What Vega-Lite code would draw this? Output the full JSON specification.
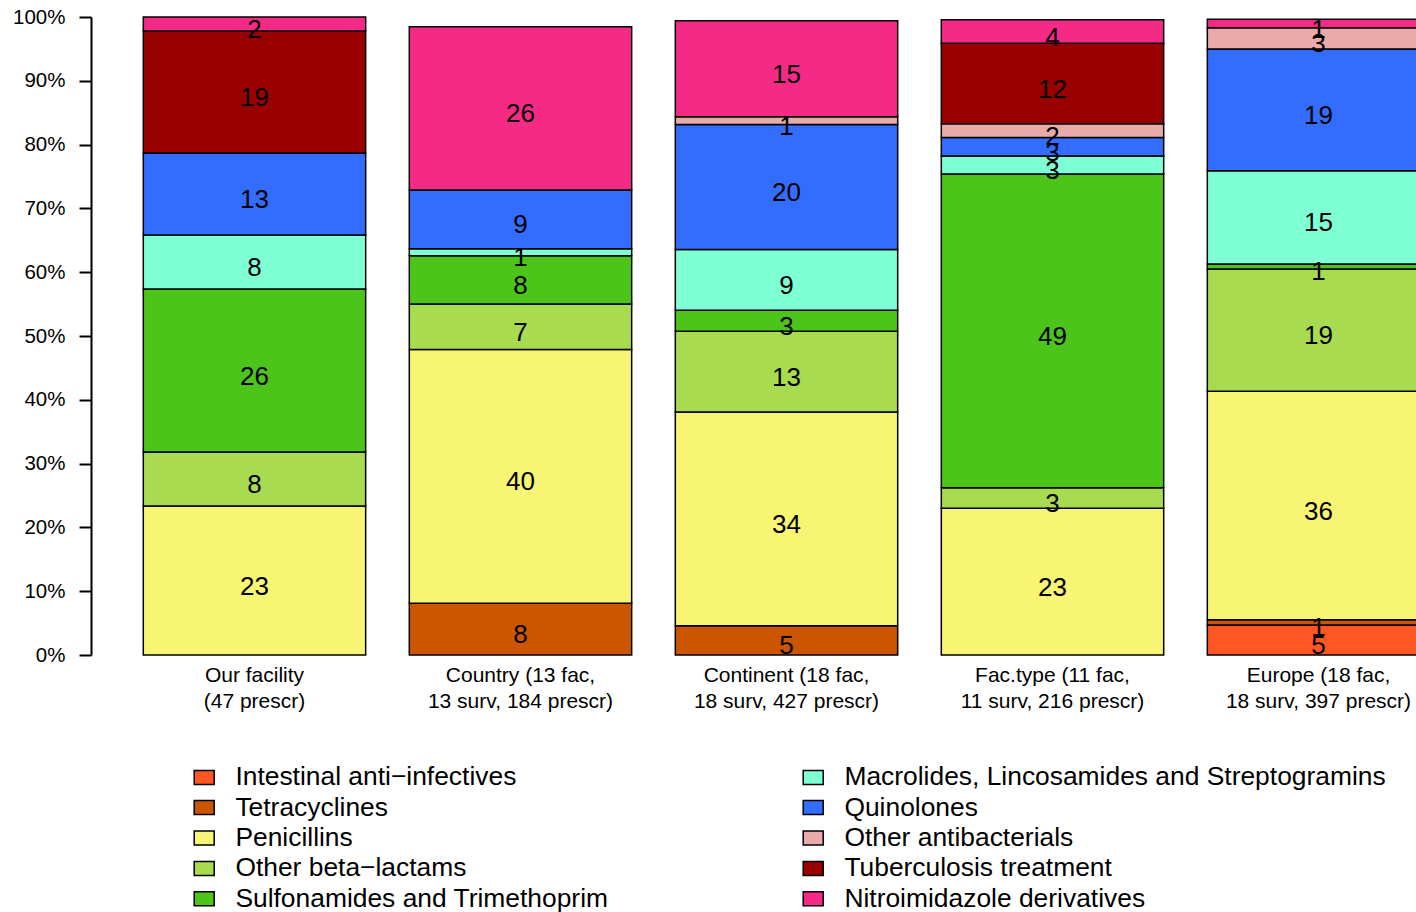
{
  "$schema": "https://vega.github.io/schema/vega-lite/v6.json",
  "width": 1325,
  "height": 638,
  "autosize": {"type": "none"},
  "padding": {"left": 91, "top": 17, "right": 0, "bottom": 257},
  "background": "white",
  "config": {
    "view": {"stroke": null},
    "font": "Liberation Sans",
    "axis": {"labelFont": "Liberation Sans", "labelColor": "black"},
    "legend": {"labelFont": "Liberation Sans"}
  },
  "data": {
    "values": [
      {"grp": "Our facility\n(47 prescr)", "cls": "Penicillins", "pct": 23.35, "lab": 23},
      {"grp": "Our facility\n(47 prescr)", "cls": "Other beta−lactams", "pct": 8.46, "lab": 8},
      {"grp": "Our facility\n(47 prescr)", "cls": "Sulfonamides and Trimethoprim", "pct": 25.55, "lab": 26},
      {"grp": "Our facility\n(47 prescr)", "cls": "Macrolides, Lincosamides and Streptogramins", "pct": 8.46, "lab": 8},
      {"grp": "Our facility\n(47 prescr)", "cls": "Quinolones", "pct": 12.85, "lab": 13},
      {"grp": "Our facility\n(47 prescr)", "cls": "Tuberculosis treatment", "pct": 19.12, "lab": 19},
      {"grp": "Our facility\n(47 prescr)", "cls": "Nitroimidazole derivatives", "pct": 2.21, "lab": 2},

      {"grp": "Country (13 fac,\n13 surv, 184 prescr)", "cls": "Tetracyclines", "pct": 8.1, "lab": 8},
      {"grp": "Country (13 fac,\n13 surv, 184 prescr)", "cls": "Penicillins", "pct": 39.8, "lab": 40},
      {"grp": "Country (13 fac,\n13 surv, 184 prescr)", "cls": "Other beta−lactams", "pct": 7.1, "lab": 7},
      {"grp": "Country (13 fac,\n13 surv, 184 prescr)", "cls": "Sulfonamides and Trimethoprim", "pct": 7.57, "lab": 8},
      {"grp": "Country (13 fac,\n13 surv, 184 prescr)", "cls": "Macrolides, Lincosamides and Streptogramins", "pct": 1.1, "lab": 1},
      {"grp": "Country (13 fac,\n13 surv, 184 prescr)", "cls": "Quinolones", "pct": 9.2, "lab": 9},
      {"grp": "Country (13 fac,\n13 surv, 184 prescr)", "cls": "Nitroimidazole derivatives", "pct": 25.6, "lab": 26},

      {"grp": "Continent (18 fac,\n18 surv, 427 prescr)", "cls": "Tetracyclines", "pct": 4.6, "lab": 5},
      {"grp": "Continent (18 fac,\n18 surv, 427 prescr)", "cls": "Penicillins", "pct": 33.5, "lab": 34},
      {"grp": "Continent (18 fac,\n18 surv, 427 prescr)", "cls": "Other beta−lactams", "pct": 12.65, "lab": 13},
      {"grp": "Continent (18 fac,\n18 surv, 427 prescr)", "cls": "Sulfonamides and Trimethoprim", "pct": 3.3, "lab": 3},
      {"grp": "Continent (18 fac,\n18 surv, 427 prescr)", "cls": "Macrolides, Lincosamides and Streptogramins", "pct": 9.5, "lab": 9},
      {"grp": "Continent (18 fac,\n18 surv, 427 prescr)", "cls": "Quinolones", "pct": 19.6, "lab": 20},
      {"grp": "Continent (18 fac,\n18 surv, 427 prescr)", "cls": "Other antibacterials", "pct": 1.2, "lab": 1},
      {"grp": "Continent (18 fac,\n18 surv, 427 prescr)", "cls": "Nitroimidazole derivatives", "pct": 15.05, "lab": 15},

      {"grp": "Fac.type (11 fac,\n11 surv, 216 prescr)", "cls": "Penicillins", "pct": 23.0, "lab": 23},
      {"grp": "Fac.type (11 fac,\n11 surv, 216 prescr)", "cls": "Other beta−lactams", "pct": 3.2, "lab": 3},
      {"grp": "Fac.type (11 fac,\n11 surv, 216 prescr)", "cls": "Sulfonamides and Trimethoprim", "pct": 49.2, "lab": 49},
      {"grp": "Fac.type (11 fac,\n11 surv, 216 prescr)", "cls": "Macrolides, Lincosamides and Streptogramins", "pct": 2.8, "lab": 3},
      {"grp": "Fac.type (11 fac,\n11 surv, 216 prescr)", "cls": "Quinolones", "pct": 2.9, "lab": 3},
      {"grp": "Fac.type (11 fac,\n11 surv, 216 prescr)", "cls": "Other antibacterials", "pct": 2.15, "lab": 2},
      {"grp": "Fac.type (11 fac,\n11 surv, 216 prescr)", "cls": "Tuberculosis treatment", "pct": 12.65, "lab": 12},
      {"grp": "Fac.type (11 fac,\n11 surv, 216 prescr)", "cls": "Nitroimidazole derivatives", "pct": 3.65, "lab": 4},

      {"grp": "Europe (18 fac,\n18 surv, 397 prescr)", "cls": "Intestinal anti−infectives", "pct": 4.7, "lab": 5},
      {"grp": "Europe (18 fac,\n18 surv, 397 prescr)", "cls": "Tetracyclines", "pct": 0.83, "lab": 1},
      {"grp": "Europe (18 fac,\n18 surv, 397 prescr)", "cls": "Penicillins", "pct": 35.8, "lab": 36},
      {"grp": "Europe (18 fac,\n18 surv, 397 prescr)", "cls": "Other beta−lactams", "pct": 19.17, "lab": 19},
      {"grp": "Europe (18 fac,\n18 surv, 397 prescr)", "cls": "Sulfonamides and Trimethoprim", "pct": 0.8, "lab": 1},
      {"grp": "Europe (18 fac,\n18 surv, 397 prescr)", "cls": "Macrolides, Lincosamides and Streptogramins", "pct": 14.6, "lab": 15},
      {"grp": "Europe (18 fac,\n18 surv, 397 prescr)", "cls": "Quinolones", "pct": 19.1, "lab": 19},
      {"grp": "Europe (18 fac,\n18 surv, 397 prescr)", "cls": "Other antibacterials", "pct": 3.3, "lab": 3},
      {"grp": "Europe (18 fac,\n18 surv, 397 prescr)", "cls": "Nitroimidazole derivatives", "pct": 1.35, "lab": 1}
    ]
  },
  "transform": [
    {"calculate": "indexof(['Intestinal anti−infectives','Tetracyclines','Penicillins','Other beta−lactams','Sulfonamides and Trimethoprim','Macrolides, Lincosamides and Streptogramins','Quinolones','Other antibacterials','Tuberculosis treatment','Nitroimidazole derivatives'], datum.cls)", "as": "k"},
    {"stack": "pct", "groupby": ["grp"], "sort": [{"field": "k", "order": "ascending"}], "as": ["v0", "v1"]},
    {"calculate": "(datum.v0 + datum.v1) / 2", "as": "mid"}
  ],
  "encoding": {
    "x": {
      "field": "grp",
      "type": "nominal",
      "sort": null,
      "scale": {"range": [0, 1391], "paddingInner": 0.164, "paddingOuter": 0.1966},
      "axis": {
        "title": null,
        "domain": false,
        "ticks": false,
        "labelAngle": 0,
        "labelFontSize": 21,
        "labelLineHeight": 26,
        "labelPadding": 9,
        "labelBaseline": "top",
        "labelLimit": 500,
        "labelExpr": "split(datum.label, '\\n')"
      }
    }
  },
  "layer": [
    {
      "mark": {"type": "bar", "stroke": "black", "strokeWidth": 1.5},
      "encoding": {
        "y": {
          "field": "v0",
          "type": "quantitative",
          "scale": {"domain": [0, 100], "nice": false},
          "axis": {
            "title": null,
            "values": [0, 10, 20, 30, 40, 50, 60, 70, 80, 90, 100],
            "labelExpr": "datum.value + '%'",
            "grid": false,
            "domainColor": "black",
            "domainWidth": 2,
            "tickColor": "black",
            "tickWidth": 2,
            "tickSize": 12,
            "labelFontSize": 20.5,
            "labelPadding": 14
          }
        },
        "y2": {"field": "v1"},
        "color": {
          "field": "cls",
          "type": "nominal",
          "scale": {
            "domain": ["Intestinal anti−infectives", "Tetracyclines", "Penicillins", "Other beta−lactams", "Sulfonamides and Trimethoprim", "Macrolides, Lincosamides and Streptogramins", "Quinolones", "Other antibacterials", "Tuberculosis treatment", "Nitroimidazole derivatives"],
            "range": ["#FF5722", "#CC5500", "#F8F574", "#A9DB50", "#4CC41A", "#7FFFD4", "#336DFF", "#E8ABAA", "#990000", "#F52A87"]
          },
          "legend": {
            "title": null,
            "orient": "none",
            "legendX": 100,
            "legendY": 747,
            "columns": 2,
            "columnPadding": 191,
            "rowPadding": 3.4,
            "padding": 0,
            "symbolType": "M-1,-0.7H1V0.7H-1Z",
            "symbolSize": 400,
            "symbolStrokeColor": "black",
            "symbolStrokeWidth": 1.5,
            "labelFontSize": 26.4,
            "labelOffset": 18,
            "labelLimit": 800,
            "labelColor": "black"
          }
        }
      }
    },
    {
      "mark": {"type": "text", "fontSize": 26, "color": "black", "align": "center", "baseline": "middle", "dy": 6},
      "encoding": {
        "y": {"field": "mid", "type": "quantitative"},
        "text": {"field": "lab", "type": "quantitative"}
      }
    }
  ]
}
